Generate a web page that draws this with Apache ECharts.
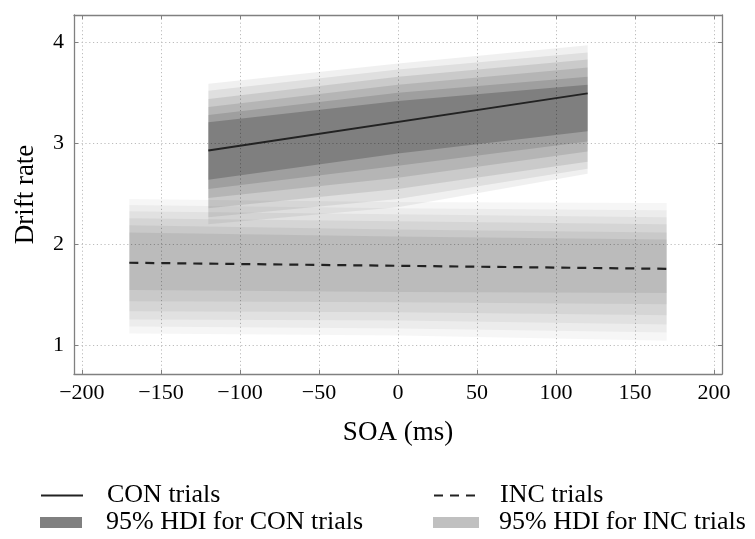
<!DOCTYPE html>
<html>
<head>
<meta charset="utf-8">
<script src="https://cdn.jsdelivr.net/npm/echarts@6/dist/echarts.min.js"></script>
<style>
  html, body { margin: 0; padding: 0; background: #ffffff; }
  #chart { width: 755px; height: 539px; }
</style>
</head>
<body>
<div id="chart"></div>
<script>
// Axis ticks
const xTicks = [-200, -150, -100, -50, 0, 50, 100, 150, 200];
const yTicks = [1, 2, 3, 4];

// Posterior mean regression lines
const conLineX = [-120, 120];
const conLineY = [2.93, 3.495];
const incLineX = [-170, 170];
const incLineY = [1.82, 1.76];

// Nested HDI layers (outermost first), sampled at left end, centre and right end
const conBandX = [-120, 0, 120];
const conBandLo = [
  [2.20, 2.37, 2.70], [2.27, 2.45, 2.75], [2.36, 2.55, 2.82],
  [2.46, 2.66, 2.92], [2.55, 2.78, 3.02], [2.64, 2.90, 3.12]
];
const conBandHi = [
  [3.59, 3.79, 3.97], [3.52, 3.73, 3.90], [3.44, 3.66, 3.83],
  [3.36, 3.58, 3.75], [3.28, 3.50, 3.66], [3.21, 3.42, 3.58]
];
const incBandX = [-170, 0, 170];
const incBandLo = [
  [1.12, 1.10, 1.05], [1.19, 1.17, 1.13], [1.26, 1.25, 1.21],
  [1.34, 1.33, 1.30], [1.44, 1.43, 1.41], [1.55, 1.53, 1.52]
];
const incBandHi = [
  [2.45, 2.42, 2.41], [2.39, 2.36, 2.34], [2.33, 2.30, 2.27],
  [2.26, 2.23, 2.20], [2.19, 2.15, 2.12], [2.12, 2.08, 2.05]
];

// Shading strength of each layer
const conAlpha = [0.06, 0.07, 0.09, 0.10, 0.12, 0.20];
const incAlpha = [0.035, 0.04, 0.045, 0.05, 0.055, 0.065];

const SERIF = "'Liberation Serif', 'Times New Roman', serif";
const FRAME = '#808080';

function bandData(xs, lo, hi) {
  return lo.map((l, i) => {
    const row = [];
    xs.forEach((x, k) => { row.push(x, l[k], hi[i][k]); });
    return row;
  });
}

function bandRenderer(nPts, alphas) {
  return function (params, api) {
    const upper = [], lower = [];
    for (let k = 0; k < nPts; k++) {
      const x = api.value(k * 3);
      lower.push(api.coord([x, api.value(k * 3 + 1)]));
      upper.push(api.coord([x, api.value(k * 3 + 2)]));
    }
    const pts = upper.concat(lower.reverse());
    return {
      type: 'polygon',
      shape: { points: pts },
      style: { fill: 'rgba(0,0,0,' + alphas[params.dataIndex] + ')' }
    };
  };
}

function pairs(xs, ys) { return xs.map((x, i) => [x, ys[i]]); }

const fmt = v => (v < 0 ? '\u2212' + Math.abs(v) : String(v));

const baseX = {
  type: 'value', min: -205, max: 205,
  axisLine: { show: true, onZero: false, lineStyle: { color: FRAME, width: 1.3 } },
  axisTick: { show: true, inside: true, length: 4, customValues: xTicks, lineStyle: { color: FRAME } },
  splitLine: { show: false }
};
const baseY = {
  type: 'value', min: 0.72, max: 4.27,
  axisLine: { show: true, onZero: false, lineStyle: { color: FRAME, width: 1.3 } },
  axisTick: { show: true, inside: true, length: 4, customValues: yTicks, lineStyle: { color: FRAME } },
  splitLine: { show: false }
};

function legendEntry(left, top, width, textPad, item) {
  return {
    left: left, top: top, orient: 'vertical', itemWidth: width, itemHeight: 11,
    selectedMode: false,
    textStyle: { fontFamily: SERIF, fontSize: 26, lineHeight: 27, color: '#000', padding: [0, 0, 0, textPad] },
    data: [item]
  };
}

const chart = echarts.init(document.getElementById('chart'));
chart.setOption({
  animation: false,
  backgroundColor: '#ffffff',
  grid: { left: 74, right: 33, top: 15, bottom: 165, containLabel: false },
  xAxis: [
    Object.assign({}, baseX, {
      position: 'bottom',
      name: 'SOA (ms)', nameLocation: 'middle', nameGap: 45, nameMoveOverlap: false,
      nameTextStyle: { fontFamily: SERIF, fontSize: 27, color: '#000' },
      axisLabel: { customValues: xTicks, formatter: fmt, margin: 8, fontFamily: SERIF, fontSize: 22, color: '#000' },
      splitLine: { show: true, lineStyle: { color: '#bcbcbc', width: 1, type: [1.2, 2.6] } }
    }),
    Object.assign({}, baseX, { position: 'top', axisLabel: { show: false } })
  ],
  yAxis: [
    Object.assign({}, baseY, {
      position: 'left',
      name: 'Drift rate', nameLocation: 'middle', nameGap: 35, nameMoveOverlap: false,
      nameTextStyle: { fontFamily: SERIF, fontSize: 27, color: '#000' },
      axisLabel: { customValues: yTicks, formatter: fmt, margin: 10, fontFamily: SERIF, fontSize: 22, color: '#000' },
      splitLine: { show: true, lineStyle: { color: '#bcbcbc', width: 1, type: [1.2, 2.6] } }
    }),
    Object.assign({}, baseY, { position: 'right', axisLabel: { show: false } })
  ],
  legend: [
    legendEntry(35, 477, 42, 19, { name: 'CON trials', itemStyle: { opacity: 0 } }),
    legendEntry(35, 504, 42, 19, { name: '95% HDI for CON trials', icon: 'rect', itemStyle: { color: '#808080' } }),
    legendEntry(428, 477, 46, 15, { name: 'INC trials', itemStyle: { opacity: 0 } }),
    legendEntry(428, 504, 46, 15, { name: '95% HDI for INC trials', icon: 'rect', itemStyle: { color: '#c0c0c0' } })
  ],
  series: [
    {
      name: '95% HDI for INC trials', type: 'custom',
      itemStyle: { color: '#c0c0c0' },
      renderItem: bandRenderer(incBandX.length, incAlpha),
      data: bandData(incBandX, incBandLo, incBandHi),
      z: 2
    },
    {
      name: '95% HDI for CON trials', type: 'custom',
      itemStyle: { color: '#808080' },
      renderItem: bandRenderer(conBandX.length, conAlpha),
      data: bandData(conBandX, conBandLo, conBandHi),
      z: 2
    },
    {
      name: 'INC trials', type: 'line', symbol: 'none',
      lineStyle: { color: '#222222', width: 2.2, type: [9, 7] },
      itemStyle: { color: '#222222' },
      data: pairs(incLineX, incLineY),
      z: 3
    },
    {
      name: 'CON trials', type: 'line', symbol: 'none',
      lineStyle: { color: '#222222', width: 2 },
      itemStyle: { color: '#222222' },
      data: pairs(conLineX, conLineY),
      z: 3
    }
  ]
});
</script>
</body>
</html>
